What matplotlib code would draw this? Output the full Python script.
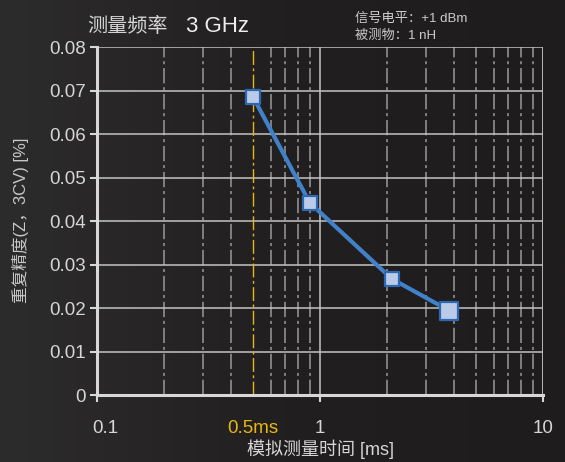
import matplotlib.pyplot as plt
import numpy as np
from matplotlib.ticker import FixedLocator, NullFormatter
from matplotlib.colors import LinearSegmentedColormap
from matplotlib.transforms import offset_copy

plt.rcParams['font.family'] = ['Liberation Sans', 'Noto Sans CJK SC']

# data
time_ms = [0.5, 0.9, 2.1, 3.8]
precision = [0.0686, 0.0442, 0.0267, 0.0194]
marker_area = [100, 100, 100, 170]

x_ticks = [0.1, 0.5, 1, 10]
x_ticklabels = ['0.1', '0.5ms', '1', '10']
x_minor = [0.2, 0.3, 0.4, 0.6, 0.7, 0.8, 0.9, 2, 3, 4, 5, 6, 7, 8, 9]
y_ticks = [0, 0.01, 0.02, 0.03, 0.04, 0.05, 0.06, 0.07, 0.08]
y_ticklabels = ['0', '0.01', '0.02', '0.03', '0.04', '0.05', '0.06', '0.07', '0.08']

txt = '#d6d6d6'
grid = '#c4c4c4'
yellow = '#e8b811'
dash = (10, 2.5, 2, 2.5)

fig = plt.figure(figsize=(5.65, 4.62), dpi=100)
fig.patch.set_facecolor('#232021')

# subtle left-to-right background gradient
bg = fig.add_axes([0, 0, 1, 1], zorder=-10)
grad = np.linspace(0, 1, 256).reshape(1, -1)
cmap = LinearSegmentedColormap.from_list('bg', ['#2d2c2c', '#221f20', '#1f1c1d'])
bg.imshow(grad, aspect='auto', cmap=cmap, extent=[0, 1, 0, 1])
bg.axis('off')

ax = fig.add_axes([0.1717, 0.145, 0.7894, 0.753])
ax.set_facecolor('none')
ax.set_xscale('log')
ax.set_xlim(0.1, 10)
ax.set_ylim(0, 0.08)

# grid lines
for v in x_minor:
    ax.axvline(v, color='#9a9a9a', lw=1.1, dashes=dash, zorder=1)
ax.axvline(1, color=grid, lw=1.1, zorder=1)
ax.axvline(10, color=grid, lw=1.3, zorder=1)
for v in y_ticks[1:]:
    ax.axhline(v, color=grid, lw=1.1, zorder=1)
ax.axvline(0.5, color=yellow, lw=1.0, dashes=dash, zorder=2)

ax.plot(time_ms, precision, color='#4181c9', lw=3.0, zorder=3, solid_capstyle='round')
ax.scatter(time_ms, precision, marker='s', s=marker_area, facecolor='#b9cbe9',
           edgecolor='#2f68b2', linewidths=1.6, zorder=4)

for s in ['top', 'right']:
    ax.spines[s].set_visible(False)
for s in ['left', 'bottom']:
    ax.spines[s].set_color('#d8d8d8')
    ax.spines[s].set_linewidth(2.2)

ax.xaxis.set_major_locator(FixedLocator(x_ticks))
ax.xaxis.set_minor_locator(FixedLocator(x_minor))
ax.xaxis.set_minor_formatter(NullFormatter())
ax.set_xticklabels(x_ticklabels)
ax.set_yticks(y_ticks)
ax.set_yticklabels(y_ticklabels)
ax.tick_params(axis='x', which='major', length=5, width=1.5, color='#d8d8d8',
               labelcolor=txt, labelsize=13.5, pad=13)
ax.tick_params(axis='x', which='minor', length=0)
ax.tick_params(axis='y', length=5, width=1.5, color='#d8d8d8', labelcolor=txt,
               labelsize=13.5, pad=3)
xlabels = ax.get_xticklabels()
xlabels[1].set_color(yellow)
xlabels[0].set_transform(offset_copy(xlabels[0].get_transform(), fig=fig, x=6, units='points'))
ax.xaxis.get_major_ticks()[1].tick1line.set_visible(False)

ax.set_xlabel('模拟测量时间 [ms]', color=txt, fontsize=13, labelpad=1.5)
ax.set_ylabel('重复精度(Z，3CV) [%]', color='#c8c8c8', fontsize=12)
ax.yaxis.set_label_coords(-0.152, 0.503)

fig.text(0.155, 0.931, '测量频率', color=txt, fontsize=14.5, va='baseline')
fig.text(0.329, 0.931, '3 GHz', color='#eeeeee', fontsize=16, va='baseline')
fig.text(0.628, 0.952, '信号电平：+1 dBm', color='#cccccc', fontsize=9.5, va='baseline')
fig.text(0.628, 0.916, '被测物：1 nH', color='#cccccc', fontsize=9.5, va='baseline')

fig.savefig('out.png', dpi=100, facecolor=fig.get_facecolor())
